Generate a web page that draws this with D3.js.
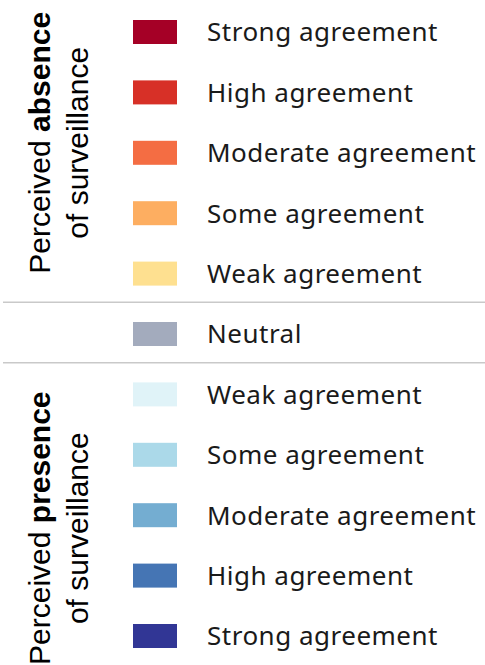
<!DOCTYPE html>
<html><head><meta charset="utf-8">
<script src="https://cdn.jsdelivr.net/npm/d3@7"></script>
<style>html,body{margin:0;padding:0;background:#fff;overflow:hidden}</style>
</head><body>
<svg id="chart" width="485" height="665"></svg>
<script>
const categories = ["Strong agreement","High agreement","Moderate agreement","Some agreement","Weak agreement","Neutral","Weak agreement","Some agreement","Moderate agreement","High agreement","Strong agreement"];
const groups = ["absence","absence","absence","absence","absence","neutral","presence","presence","presence","presence","presence"];
const colors = ["#a50026","#d73027","#f46d43","#fdae61","#fee090","#a3abbd","#e0f3f8","#abd9e9","#74add1","#4575b4","#313695"];
const titles = [
  {group:"absence", pre:"Perceived ", bold:"absence", line2:"of surveillance"},
  {group:"presence", pre:"Perceived ", bold:"presence", line2:"of surveillance"}
];

const svg = d3.select("#chart");
const idx = d3.range(categories.length);
const y = d3.scalePoint().domain(idx).range([32, 636]);
const step = y.step();

// separators
const sepIdx = [];
for (let i = 1; i < groups.length; i++) if (groups[i] !== groups[i-1]) sepIdx.push(i);
svg.selectAll("line.sep").data(sepIdx).join("line")
  .attr("class","sep")
  .attr("x1",3).attr("x2",485)
  .attr("y1",d => y(d) - step/2 - 1.5).attr("y2",d => y(d) - step/2 - 1.5)
  .attr("stroke","#c9c9c9").attr("stroke-width",1.5);

const rows = svg.selectAll("g.row").data(idx).join("g")
  .attr("class","row")
  .attr("transform", d => `translate(0,${y(d)})`);
rows.append("rect")
  .attr("x",133).attr("y",-12).attr("width",44).attr("height",24)
  .attr("fill", d => colors[d]);
rows.append("text")
  .attr("x",207).attr("y",0).attr("dy","0.36em")
  .attr("font-family","'Noto Sans', sans-serif").attr("font-size",26)
  .attr("letter-spacing",0.5)
  .attr("fill","#1a1a1a")
  .text(d => categories[d]);

// group titles
titles.forEach(t => {
  const members = idx.filter(i => groups[i] === t.group);
  const cy = d3.mean(members, i => y(i)) - 10 + (t.group === "presence" ? 23 : 0);
  const g = svg.append("g").attr("transform", `translate(0,${cy}) rotate(-90)`);
  const l1 = g.append("text").attr("x",0).attr("y",50)
    .attr("text-anchor","middle")
    .attr("font-family","'Liberation Sans', Arial, sans-serif").attr("font-size",30).attr("fill","#000");
  l1.append("tspan").text(t.pre);
  l1.append("tspan").attr("font-weight","bold").text(t.bold);
  g.append("text").attr("x",0).attr("y",88)
    .attr("text-anchor","middle")
    .attr("font-family","'Liberation Sans', Arial, sans-serif").attr("font-size",30).attr("fill","#000")
    .text(t.line2);
});
</script>
</body></html>
